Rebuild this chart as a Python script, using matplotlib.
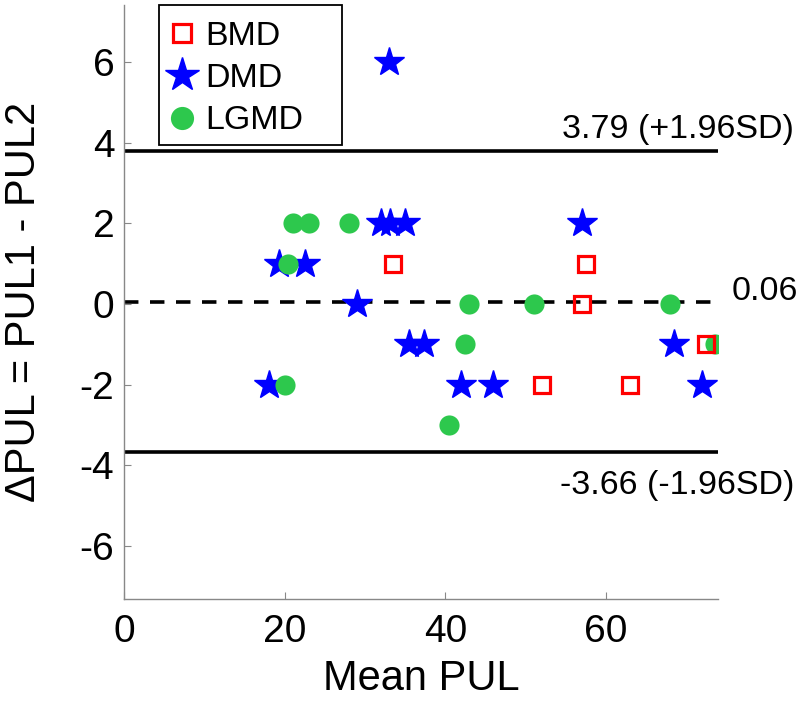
import matplotlib.pyplot as plt
from matplotlib.patches import Rectangle

plt.rcParams['font.family'] = ['Liberation Sans', 'DejaVu Sans']
plt.rcParams['axes.unicode_minus'] = False

# mean PUL (x) and difference PUL1 - PUL2 (y) per group
bmd_x = [33.5, 57.5, 57.0, 52.0, 63.0, 72.4]
bmd_y = [1, 1, 0, -2, -2, -1]
dmd_x = [33.0, 32.0, 33.1, 35.0, 19.3, 22.5, 29.0, 35.5, 37.4, 68.5, 18.0, 42.0, 46.0, 57.0, 72.0]
dmd_y = [6, 2, 2, 2, 1, 1, 0, -1, -1, -1, -2, -2, -2, 2, -2]
lgmd_x = [21.0, 23.0, 28.0, 20.4, 20.0, 43.0, 51.0, 68.0, 42.5, 73.6, 40.5]
lgmd_y = [2, 2, 2, 1, -2, 0, 0, 0, -1, -1, -3]

mean_diff = 0.06
upper_loa = 3.79
lower_loa = -3.66

fig = plt.figure(figsize=(8, 7.04), dpi=100)
ax = fig.add_axes([0.155, 0.149, 0.743, 0.844])

ax.axhline(upper_loa, color='black', lw=2.6, zorder=1)
ax.axhline(lower_loa, color='black', lw=2.6, zorder=1)
ax.axhline(mean_diff, color='black', lw=2.6, ls=(0, (4, 3.2)), zorder=1)

s_dmd = ax.plot(dmd_x, dmd_y, ls='none', marker='*', ms=22, color='#0000ff',
                mec='#0000ff', zorder=2)[0]
s_lgmd = ax.plot(lgmd_x, lgmd_y, ls='none', marker='o', ms=14.5, color='#2dc84d',
                 mec='none', zorder=3)[0]
s_bmd = ax.plot(bmd_x, bmd_y, ls='none', marker='s', ms=11.5, mfc='none',
                mec='#ff0000', mew=2.3, zorder=4)[0]

ax.text(83.4, 4.32, '3.79 (+1.96SD)', ha='right', va='center', fontsize=24.5, clip_on=False)
ax.text(75.6, 0.30, '0.06', ha='left', va='center', fontsize=24.5, clip_on=False)
ax.text(83.4, -4.49, '-3.66 (-1.96SD)', ha='right', va='center', fontsize=24.5, clip_on=False)

ax.set_xlim(0, 74)
ax.set_ylim(-7.32, 7.42)
ax.set_xticks([0, 20, 40, 60])
ax.set_yticks([-6, -4, -2, 0, 2, 4, 6])
ax.set_xlabel('Mean PUL', fontsize=30)
ax.set_ylabel('ΔPUL = PUL1 - PUL2', fontsize=30)
ax.xaxis.set_label_coords(0.5, -0.1)
ax.yaxis.set_label_coords(-0.135, 0.5)
ax.tick_params(direction='in', length=5, width=0.8, color='#888888', labelsize=28)
ax.tick_params(axis='x', pad=10.5)
ax.tick_params(axis='y', pad=7)
for side in ['top', 'right']:
    ax.spines[side].set_visible(False)
for side in ['left', 'bottom']:
    ax.spines[side].set_color('#888888')
    ax.spines[side].set_linewidth(1)

# legend box drawn separately (wide right margin as in the original)
ax.add_patch(Rectangle((0.0584, 0.7643), 0.3081, 0.2357, transform=ax.transAxes,
                       fill=False, edgecolor='black', lw=1.3, clip_on=False, zorder=5))
leg = ax.legend([s_bmd, s_dmd, s_lgmd], ['BMD', 'DMD', 'LGMD'], loc='upper left',
                bbox_to_anchor=(0.0685, 0.973), borderaxespad=0, borderpad=0,
                fontsize=24.5, frameon=False, markerscale=1.15,
                handletextpad=0.2, handlelength=1.0, labelspacing=0.33)

fig.savefig('out.png', dpi=100)
